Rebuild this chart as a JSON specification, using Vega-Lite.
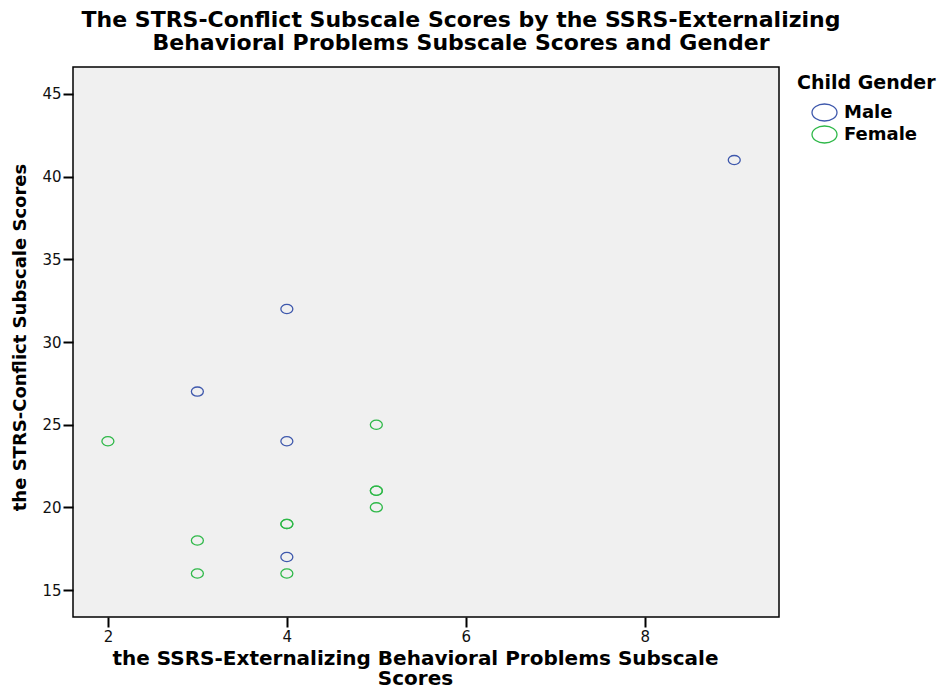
{
  "$schema": "https://vega.github.io/schema/vega-lite/v6.json",
  "width": 706,
  "height": 550,
  "autosize": {"type": "none"},
  "padding": {"left": 73, "top": 67, "right": 160, "bottom": 71},
  "background": "white",
  "title": {
    "text": ["The STRS-Conflict Subscale Scores by the SSRS-Externalizing", "Behavioral Problems Subscale Scores and Gender"],
    "font": "DejaVu Sans",
    "fontSize": 22,
    "fontWeight": "bold",
    "color": "black",
    "anchor": "middle",
    "dx": 35,
    "offset": 12,
    "lineHeight": 23
  },
  "config": {
    "view": {"fill": "#f0f0f0", "stroke": "black", "strokeWidth": 1.5},
    "font": "DejaVu Sans"
  },
  "data": {
    "values": [
      {"ext": 9, "conflict": 41, "gender": "Male"},
      {"ext": 4, "conflict": 32, "gender": "Male"},
      {"ext": 3, "conflict": 27, "gender": "Male"},
      {"ext": 4, "conflict": 24, "gender": "Male"},
      {"ext": 4, "conflict": 17, "gender": "Male"},
      {"ext": 2, "conflict": 24, "gender": "Female"},
      {"ext": 5, "conflict": 25, "gender": "Female"},
      {"ext": 5, "conflict": 21, "gender": "Female"},
      {"ext": 5, "conflict": 21, "gender": "Female"},
      {"ext": 5, "conflict": 20, "gender": "Female"},
      {"ext": 4, "conflict": 19, "gender": "Female"},
      {"ext": 4, "conflict": 19, "gender": "Female"},
      {"ext": 3, "conflict": 18, "gender": "Female"},
      {"ext": 3, "conflict": 16, "gender": "Female"},
      {"ext": 4, "conflict": 16, "gender": "Female"}
    ]
  },
  "mark": {
    "type": "point",
    "shape": "M -1.3 0 A 1.3 1 0 1 0 1.3 0 A 1.3 1 0 1 0 -1.3 0 Z",
    "size": 85,
    "strokeWidth": 1.3,
    "filled": false,
    "opacity": 1
  },
  "encoding": {
    "x": {
      "field": "ext",
      "type": "quantitative",
      "scale": {"domain": [1.61, 9.5], "nice": false, "zero": false},
      "axis": {
        "title": ["the SSRS-Externalizing Behavioral Problems Subscale", "Scores"],
        "titleFont": "DejaVu Sans",
        "titleFontSize": 20,
        "titleFontWeight": "bold",
        "titleColor": "black",
        "titleLineHeight": 20,
        "titlePadding": 4,
        "titleX": 342,
        "values": [2, 4, 6, 8],
        "grid": false,
        "domain": false,
        "tickColor": "black",
        "tickSize": 10,
        "tickWidth": 2,
        "labelFont": "DejaVu Sans",
        "labelFontSize": 15,
        "labelColor": "#111111",
        "labelPadding": 2
      }
    },
    "y": {
      "field": "conflict",
      "type": "quantitative",
      "scale": {"domain": [13.37, 46.63], "nice": false, "zero": false},
      "axis": {
        "title": "the STRS-Conflict Subscale Scores",
        "titleFont": "DejaVu Sans",
        "titleFontSize": 18,
        "titleFontWeight": "bold",
        "titleColor": "black",
        "titlePadding": 12,
        "titleY": 270,
        "values": [15, 20, 25, 30, 35, 40, 45],
        "grid": false,
        "domain": false,
        "tickColor": "black",
        "tickSize": 10,
        "tickWidth": 2,
        "labelFont": "DejaVu Sans",
        "labelFontSize": 15,
        "labelColor": "#111111",
        "labelPadding": 2
      }
    },
    "color": {
      "field": "gender",
      "type": "nominal",
      "scale": {"domain": ["Male", "Female"], "range": ["#3e58ac", "#2eb848"]},
      "legend": {
        "title": "Child Gender",
        "orient": "none",
        "legendX": 724,
        "legendY": 7,
        "titleFont": "DejaVu Sans",
        "titleFontSize": 19,
        "titleFontWeight": "bold",
        "titleColor": "black",
        "titlePadding": 10,
        "labelFont": "DejaVu Sans",
        "labelFontSize": 18,
        "labelFontWeight": "bold",
        "labelColor": "black",
        "symbolType": "M -1.47 0 A 1.47 1 0 1 0 1.47 0 A 1.47 1 0 1 0 -1.47 0 Z",
        "symbolSize": 289,
        "symbolStrokeWidth": 1.3,
        "symbolFillColor": "transparent",
        "symbolOffset": 18,
        "labelOffset": 10,
        "rowPadding": -1
      }
    }
  }
}
